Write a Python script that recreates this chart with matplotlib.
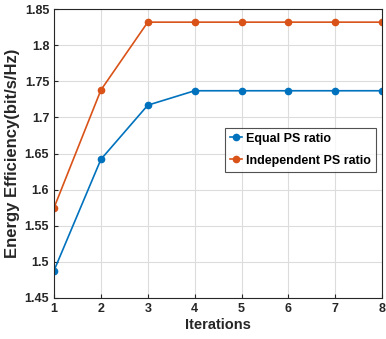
import numpy as np
import matplotlib
matplotlib.use('Agg')
import matplotlib.pyplot as plt

plt.rcParams['font.family'] = ['Liberation Sans', 'DejaVu Sans']

iterations = [1, 2, 3, 4, 5, 6, 7, 8]
equal_ps = [1.488, 1.642, 1.717, 1.737, 1.737, 1.737, 1.737, 1.737]
indep_ps = [1.575, 1.738, 1.832, 1.832, 1.832, 1.832, 1.832, 1.832]

fig = plt.figure(figsize=(3.86, 3.39), dpi=100)
ax = fig.add_axes([0.14, 0.121, 0.85, 0.852])

ax.plot(iterations, equal_ps, '-o', color='#0072BD', lw=1.2, ms=4.5, label='Equal PS ratio')
ax.plot(iterations, indep_ps, '-o', color='#D95319', lw=1.2, ms=4.5, label='Independent PS ratio')

ax.set_xlim(1, 8)
ax.set_ylim(1.45, 1.85)
ax.set_xticks(iterations)
ax.set_yticks(np.arange(1.45, 1.851, 0.05))
ax.set_yticklabels(['1.45', '1.5', '1.55', '1.6', '1.65', '1.7', '1.75', '1.8', '1.85'])
ax.grid(True, color='#dcdcdc', lw=0.8)
ax.set_axisbelow(True)
for s in ax.spines.values():
    s.set_color('#262626')
    s.set_linewidth(0.8)
ax.tick_params(direction='in', length=3, colors='#262626', labelsize=9)
for lab in ax.get_xticklabels() + ax.get_yticklabels():
    lab.set_fontweight('bold')

ax.set_xlabel('Iterations', fontsize=10.5, fontweight='bold', color='#262626', labelpad=2)
ax.set_ylabel('Energy Efficiency(bit/s/Hz)', fontsize=12, fontweight='bold', color='#262626', labelpad=3)

leg = ax.legend(loc='upper left', bbox_to_anchor=(0.52, 0.59),
                prop={'weight': 'bold', 'size': 9}, frameon=True, fancybox=False,
                handlelength=1.0, handletextpad=0.3, borderpad=0.4, labelspacing=0.8,
                borderaxespad=0)
leg.get_frame().set_edgecolor('#262626')
leg.get_frame().set_linewidth(0.8)

plt.savefig('out.png', dpi=100)
